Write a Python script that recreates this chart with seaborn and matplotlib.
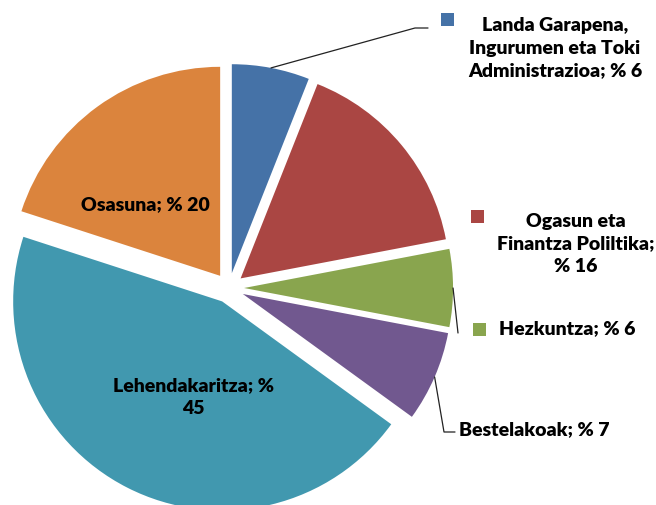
import numpy as np
import matplotlib
matplotlib.use("Agg")
import matplotlib.pyplot as plt
import seaborn as sns

# -----------------------------
# Data
# -----------------------------
labels = [
    "Landa Garapena,\nIngurumen eta Toki\nAdministrazioa; % 6",
    "Ogasun eta\nFinantza Poliltika;\n% 16",
    "Hezkuntza; % 6",
    "Bestelakoak; % 7",
    "Lehendakaritza; %\n45",
    "Osasuna; % 20",
]
values = [6, 16, 6, 7, 45, 20]
colors = ["#4572A7", "#AA4643", "#89A54E", "#71588F", "#4198AF", "#DB843D"]

# -----------------------------
# Layout helpers (pixel -> data units, pie radius = 1)
# -----------------------------
W, H = 656, 506
CX, CY, R = 229, 289, 209
EXPLODE = 0.072


def px(x, y):
    return ((x - CX) / R, (CY - y) / R)


sns.set_style("white")
plt.rcParams["font.family"] = ["Lato", "DejaVu Sans"]

fig = plt.figure(figsize=(W / 100, H / 100), dpi=100)
ax = fig.add_axes([0, 0, 1, 1])

wedges, _ = ax.pie(values, colors=colors, startangle=90, counterclock=False,
                   explode=[EXPLODE] * len(values), radius=1,
                   wedgeprops=dict(linewidth=0))

ax.set_xlim(-CX / R, (W - CX) / R)
ax.set_ylim(-(H - CY) / R, CY / R)
ax.set_aspect("equal")
ax.axis("off")


def arc_point(i):
    # point on the outer arc of wedge i at its middle angle
    w = wedges[i]
    mid = np.deg2rad((w.theta1 + w.theta2) / 2)
    cx, cy = w.center
    return cx + w.r * np.cos(mid), cy + w.r * np.sin(mid)


font = dict(fontsize=14, fontweight="heavy", color="black", linespacing=1.42)

# legend-like squares next to outside labels
sq = 13 / R
for i, (x, y) in [(0, (447, 20)), (1, (477, 217)), (2, (479, 330))]:
    xx, yy = px(x, y)
    ax.add_patch(plt.Rectangle((xx - sq / 2, yy - sq / 2), sq, sq,
                               color=colors[i], lw=0))

# outside labels
ax.text(*px(555, 48), labels[0], ha="center", va="center", **font)
ax.text(*px(576, 244), labels[1], ha="center", va="center", **font)
ax.text(*px(499, 329), labels[2], ha="left", va="center", **font)
ax.text(*px(459, 430), labels[3], ha="left", va="center", **font)

# inside labels
ax.text(*px(145, 205), labels[5], ha="center", va="center", **font)
ax.text(*px(193, 397), labels[4], ha="center", va="center", **font)

# leader lines
line_kw = dict(color="#222222", lw=0.9)
x0, y0 = arc_point(0)
ax.plot([x0, px(415, 29)[0], px(428, 29)[0]], [y0, px(415, 29)[1], px(428, 29)[1]], **line_kw)
x0, y0 = arc_point(2)
ax.plot([x0, px(458, 334)[0]], [y0, px(458, 334)[1]], **line_kw)
x0, y0 = arc_point(3)
ax.plot([x0, px(444, 433)[0], px(455, 433)[0]], [y0, px(444, 433)[1], px(455, 433)[1]], **line_kw)

fig.savefig("out.png", dpi=100, facecolor="white")
